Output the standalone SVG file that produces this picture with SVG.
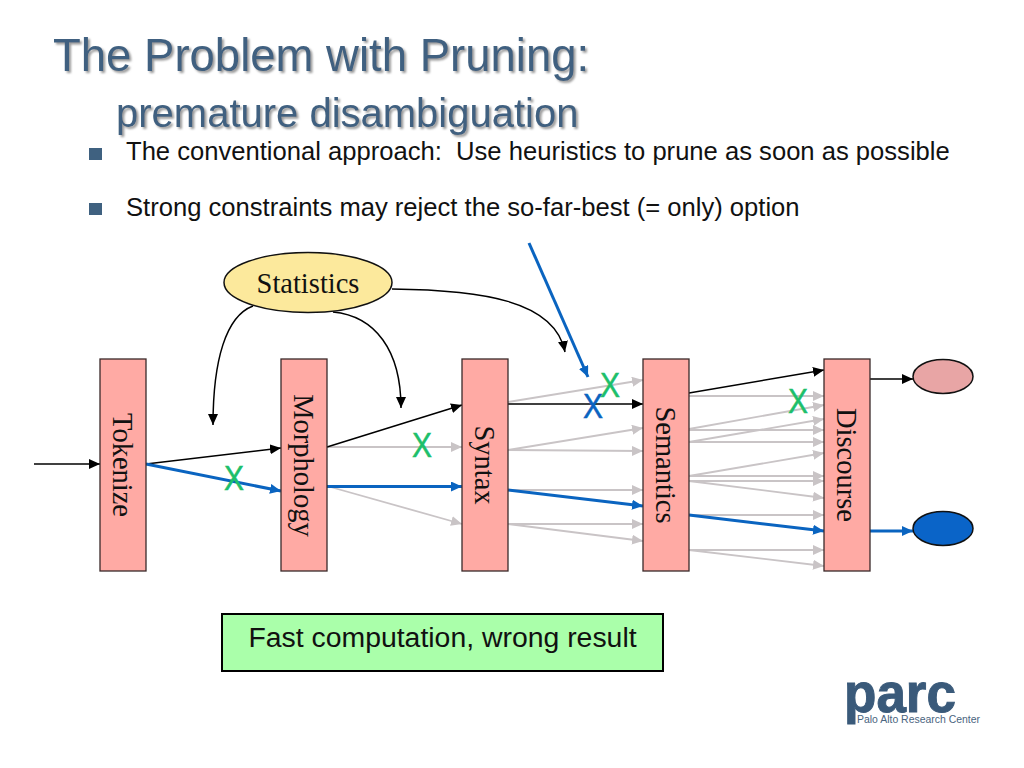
<svg xmlns="http://www.w3.org/2000/svg" width="1024" height="768" viewBox="0 0 1024 768">
<style>
.sans{font-family:"Liberation Sans",Arial,sans-serif}
.serif{font-family:"Liberation Serif","Times New Roman",serif;fill:#111}
.title{fill:#3f6180;filter:url(#sh)}
.body{font-size:25.600px;fill:#111;white-space:pre}
.box{fill:#ffaaa4;stroke:#3a2a2a;stroke-width:1.3}
.bl{fill:#3f6180}
.x{font-size:35px;text-anchor:middle;stroke-width:0.500}
.g{fill:#1dbf6b;stroke:#1dbf6b}.b{fill:#0a64c0;stroke:#0a64c0}
.lbl{font-size:28.500px;text-anchor:middle}
#connectors path,#connectors line{fill:none}
.k{stroke:#000;stroke-width:1.500;marker-end:url(#mk)}
.y{stroke:#c9c4c6;stroke-width:1.800;marker-end:url(#my)}
.u{stroke:#0a64c0;stroke-width:3;marker-end:url(#mu)}
</style>
<defs>
<filter id="sh" x="-5%" y="-20%" width="110%" height="140%"><feDropShadow dx="2" dy="2" stdDeviation="1" flood-color="#9a9a9a"/></filter>
<marker id="mk" markerUnits="userSpaceOnUse" markerWidth="13" markerHeight="11" refX="11" refY="5" orient="auto"><path d="M0 0L11 5L0 10z" fill="#000"/></marker>
<marker id="my" markerUnits="userSpaceOnUse" markerWidth="13" markerHeight="11" refX="11" refY="5" orient="auto"><path d="M0 0L11 5L0 10z" fill="#c9c4c6"/></marker>
<marker id="mu" markerUnits="userSpaceOnUse" markerWidth="13" markerHeight="11" refX="11" refY="5" orient="auto"><path d="M0 0L11 5L0 10z" fill="#0a64c0"/></marker>
</defs>
<rect width="1024" height="768" fill="#fff"/>
<g id="heading">
<text class="sans title" x="53" y="71" font-size="45.500">The Problem with Pruning:</text>
<text class="sans title" x="116" y="127" font-size="40">premature disambiguation</text>
</g>
<g id="bullets">
<rect class="bl" x="89" y="148" width="13" height="12"/>
<text class="sans body" x="126" y="160">The conventional approach:  Use heuristics to prune as soon as possible</text>
<rect class="bl" x="89" y="203" width="13" height="12"/>
<text class="sans body" x="126" y="216">Strong constraints may reject the so-far-best (= only) option</text>
</g>
<g id="connectors">
<path class="y" d="M508 402L643 380"/>
<path class="y" d="M508 450L643 428"/>
<path class="y" d="M508 450L643 451"/>
<path class="y" d="M508 490L643 490"/>
<path class="y" d="M508 524L643 524"/>
<path class="y" d="M508 524L643 541"/>
<path class="y" d="M327 447L462 447"/>
<path class="y" d="M327 486L462 524"/>
<path class="y" d="M689 396L824 396"/>
<path class="y" d="M689 429L824 405"/>
<path class="y" d="M689 430L824 430"/>
<path class="y" d="M689 442L824 419"/>
<path class="y" d="M689 442L824 442"/>
<path class="y" d="M689 476L824 453"/>
<path class="y" d="M689 476L824 476"/>
<path class="y" d="M689 481L824 481"/>
<path class="y" d="M689 481L824 498"/>
<path class="y" d="M689 515L824 515"/>
<path class="y" d="M689 550L824 550"/>
<path class="y" d="M689 550L824 566"/>
<path class="k" d="M34 464L100 464"/>
<path class="k" d="M146 464L281 448"/>
<path class="k" d="M327 447L462 405"/>
<path class="k" d="M508 404L643 404"/>
<path class="k" d="M689 393L824 370"/>
<path class="k" d="M870 379L913 379"/>
<path class="u" d="M146 464L281 491"/>
<path class="u" d="M327 486.500L462 486.500"/>
<path class="u" d="M508 490L643 506"/>
<path class="u" d="M689 515L824 531"/>
<path class="u" d="M870 531L913 531"/>
<path class="u" d="M529 243L588 377"/>
<path class="k" d="M253 306C226 316 213 360 213 425"/>
<path class="k" d="M333 312C375 316 401 350 401 408"/>
<path class="k" d="M392 289C480 290 555 300 565 352"/>
</g>
<g id="tokenize"><rect class="box" x="100" y="359" width="46" height="212"/><text class="serif lbl" transform="translate(113 465) rotate(90)">Tokenize</text></g>
<g id="morphology"><rect class="box" x="281" y="359" width="46" height="212"/><text class="serif lbl" transform="translate(294 465.500) rotate(90)">Morphology</text></g>
<g id="syntax"><rect class="box" x="462" y="359" width="46" height="212"/><text class="serif lbl" transform="translate(475 465) rotate(90)">Syntax</text></g>
<g id="semantics"><rect class="box" x="643" y="359" width="46" height="212"/><text class="serif lbl" transform="translate(656 465) rotate(90)">Semantics</text></g>
<g id="discourse"><rect class="box" x="824" y="359" width="46" height="212"/><text class="serif lbl" transform="translate(837 465) rotate(90)">Discourse</text></g>
<g id="statistics"><ellipse cx="308" cy="282.500" rx="84" ry="30" fill="#fce99c" stroke="#111" stroke-width="1.500"/><text class="serif lbl" x="308" y="293">Statistics</text></g>
<g id="output-pruned"><ellipse cx="943" cy="376.500" rx="30" ry="17" fill="#e8a5a5" stroke="#111" stroke-width="1.500"/></g>
<g id="output-blue"><ellipse cx="943" cy="528.500" rx="30" ry="17" fill="#0a64c8" stroke="#111" stroke-width="1.500"/></g>
<g id="marks">
<text class="sans x g" x="234" y="490" textLength="20" lengthAdjust="spacingAndGlyphs">X</text>
<text class="sans x g" x="422" y="457" textLength="20" lengthAdjust="spacingAndGlyphs">X</text>
<text class="sans x g" x="610" y="397" textLength="20" lengthAdjust="spacingAndGlyphs">X</text>
<text class="sans x b" x="593" y="418" textLength="20" lengthAdjust="spacingAndGlyphs">X</text>
<text class="sans x g" x="798" y="413" textLength="20" lengthAdjust="spacingAndGlyphs">X</text>
</g>
<g id="callout"><rect x="222" y="614" width="441" height="57" fill="#aaffaa" stroke="#000" stroke-width="2"/><text class="sans" x="442.500" y="647" font-size="28.400" text-anchor="middle" fill="#111">Fast computation, wrong result</text></g>
<g id="logo">
<text class="sans" x="844" y="712" font-size="55" font-weight="700" fill="#3a5a7a" stroke="#3a5a7a" stroke-width="1" textLength="112" lengthAdjust="spacingAndGlyphs">parc</text>
<text class="sans" x="857" y="723" font-size="10.500" fill="#4a6580" textLength="123" lengthAdjust="spacingAndGlyphs">Palo Alto Research Center</text>
</g>
</svg>
